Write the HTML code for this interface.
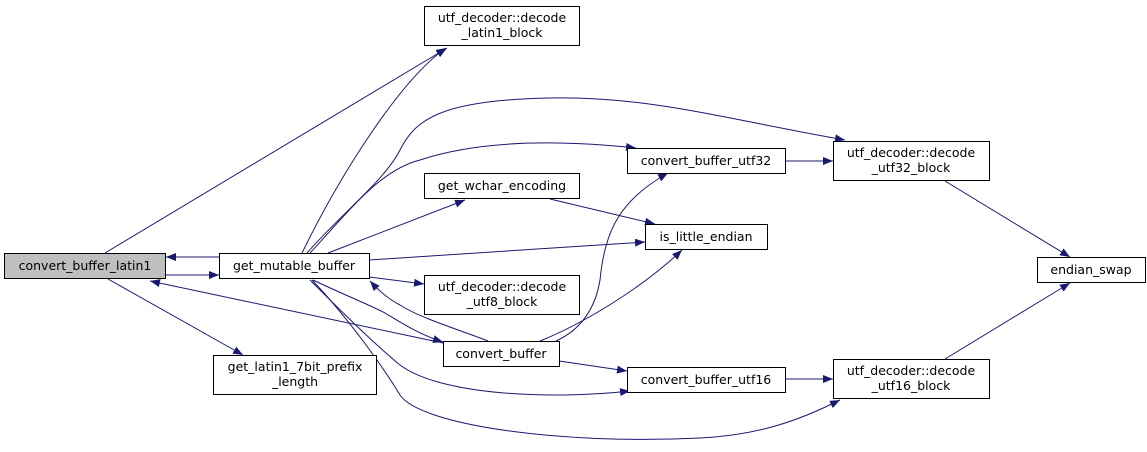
<!DOCTYPE html>
<html><head><meta charset="utf-8"><style>
body{margin:0;background:#fff;}
svg text{font-family:"DejaVu Sans","Liberation Sans",sans-serif;font-size:12.5px;fill:#000;text-anchor:middle;}
</style></head><body>
<svg width="1147" height="447" viewBox="0 0 1147 447" xmlns="http://www.w3.org/2000/svg">
<defs><marker id="a" markerWidth="10" markerHeight="8" refX="10" refY="4" orient="auto" markerUnits="userSpaceOnUse"><path d="M0,0 L10,4 L0,8 Z" fill="#191970"/></marker></defs>
<g fill="none" stroke="#191970" stroke-width="1" marker-end="url(#a)">
<path d="M105,253 L447,48"/>
<path d="M219,257 L166,257"/>
<path d="M166,275 L219,275"/>
<path d="M443,343 L150,281"/>
<path d="M108,279 L243,355"/>
<path d="M302,253 C340,175 400,80 446,48"/>
<path d="M307,253 C340,215 385,180 400,150 C415,120 440,100 550,98 C650,96 730,120 845,140"/>
<path d="M310,253 C350,210 380,170 420,160 C480,140 560,140 636,148"/>
<path d="M328,253 L465,200"/>
<path d="M369,260 L645,242"/>
<path d="M369,277 L424,284"/>
<path d="M488,341 C460,330 420,318 400,305 C390,300 380,292 370,281"/>
<path d="M313,280 C340,293 370,305 385,313 C400,322 420,335 443,342"/>
<path d="M310,280 C340,310 370,340 400,365 C440,395 550,400 630,391"/>
<path d="M312,280 C350,320 385,370 400,395 C420,425 560,445 700,438 C760,435 800,420 840,400"/>
<path d="M550,199 L655,224"/>
<path d="M556,341 C580,330 595,310 600,280 C605,230 620,200 668,173"/>
<path d="M540,341 C580,325 640,290 682,250"/>
<path d="M559,361 L627,371"/>
<path d="M785,161 L833,161"/>
<path d="M785,379 L833,379"/>
<path d="M945,181 L1070,257"/>
<path d="M945,359 L1070,283"/>
</g>
<g stroke="#000" stroke-width="1">
<rect x="4.5" y="253.5" width="161" height="25" fill="#bfbfbf"/>
<rect x="219.5" y="253.5" width="150" height="25" fill="#fff"/>
<rect x="424.5" y="6.5" width="155" height="39" fill="#fff"/>
<rect x="424.5" y="173.5" width="155" height="25" fill="#fff"/>
<rect x="424.5" y="275.5" width="155" height="39" fill="#fff"/>
<rect x="443.5" y="341.5" width="116" height="25" fill="#fff"/>
<rect x="213.5" y="355.5" width="163" height="39" fill="#fff"/>
<rect x="627.5" y="148.5" width="158" height="25" fill="#fff"/>
<rect x="833.5" y="141.5" width="156" height="39" fill="#fff"/>
<rect x="645.5" y="224.5" width="122" height="25" fill="#fff"/>
<rect x="1037.5" y="257.5" width="108" height="25" fill="#fff"/>
<rect x="627.5" y="367.5" width="158" height="25" fill="#fff"/>
<rect x="833.5" y="359.5" width="156" height="39" fill="#fff"/>
</g>
<text x="85" y="270">convert_buffer_latin1</text>
<text x="294" y="270">get_mutable_buffer</text>
<text x="502" y="22">utf_decoder::decode</text>
<text x="502" y="37">_latin1_block</text>
<text x="502" y="190">get_wchar_encoding</text>
<text x="502" y="291">utf_decoder::decode</text>
<text x="502" y="306">_utf8_block</text>
<text x="501" y="358">convert_buffer</text>
<text x="295" y="371">get_latin1_7bit_prefix</text>
<text x="295" y="386">_length</text>
<text x="706" y="165">convert_buffer_utf32</text>
<text x="911" y="157">utf_decoder::decode</text>
<text x="911" y="172">_utf32_block</text>
<text x="706" y="241">is_little_endian</text>
<text x="1091" y="274">endian_swap</text>
<text x="706" y="384">convert_buffer_utf16</text>
<text x="911" y="375">utf_decoder::decode</text>
<text x="911" y="390">_utf16_block</text>
</svg>
</body></html>
